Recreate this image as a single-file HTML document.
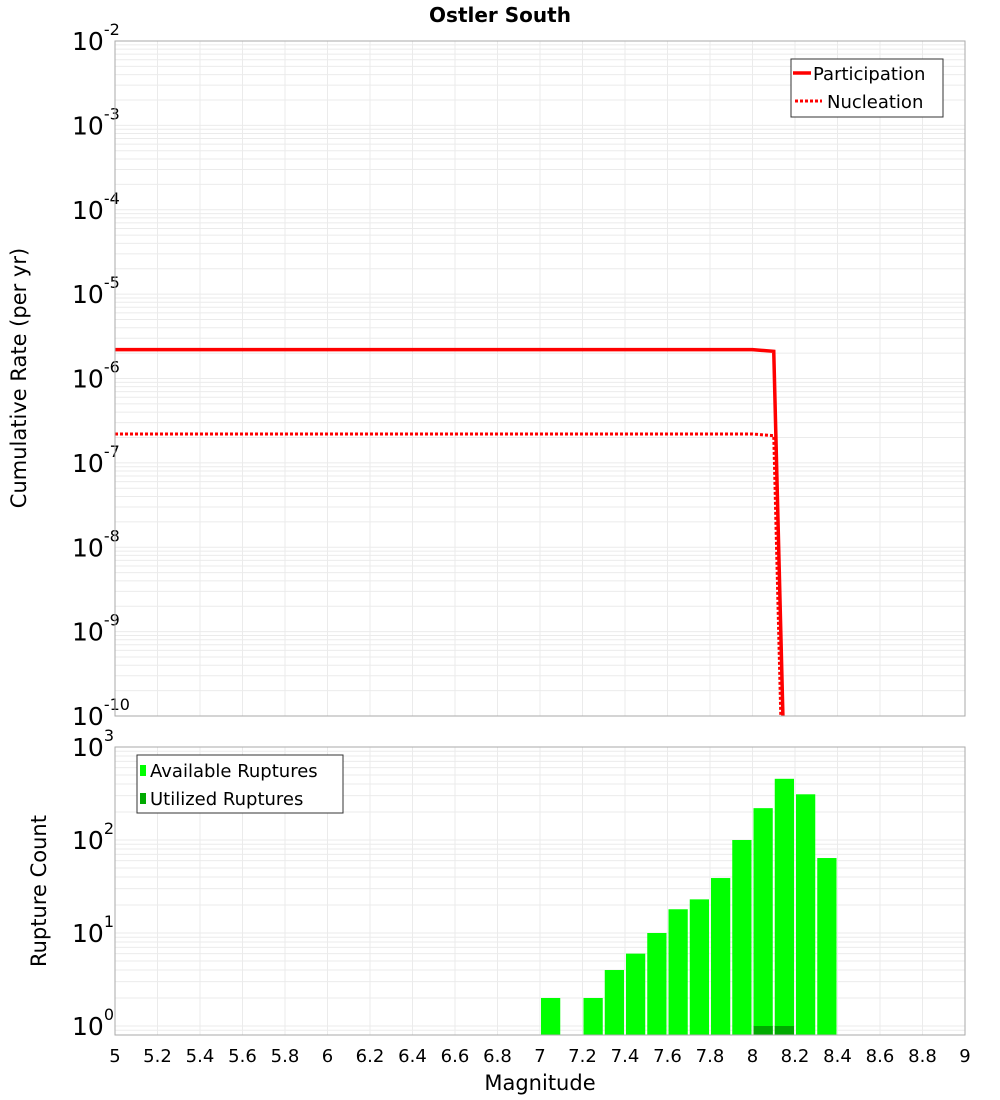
<!DOCTYPE html>
<html><head><meta charset="utf-8"><style>
html,body{margin:0;background:#fff;overflow:hidden;width:1000px;height:1100px;}
svg{display:block;}
svg text{font-family:"DejaVu Sans","Liberation Sans",sans-serif;}
</style></head><body>
<svg id="c" width="1000" height="1100" xmlns="http://www.w3.org/2000/svg">
<text x="500" y="22" text-anchor="middle" font-size="20" font-weight="bold">Ostler South</text>
<text transform="translate(26,378) rotate(-90)" text-anchor="middle" font-size="21">Cumulative Rate (per yr)</text>
<text transform="translate(46,891) rotate(-90)" text-anchor="middle" font-size="21">Rupture Count</text>
<text x="540" y="1090" text-anchor="middle" font-size="21">Magnitude</text>
<g id="g"></g>
</svg>
<script>
const lineMags=[5.0,5.5,6.0,6.5,7.0,7.5,8.0,8.1,8.2];
const participation=[2.2e-6,2.2e-6,2.2e-6,2.2e-6,2.2e-6,2.2e-6,2.2e-6,2.1e-6,2e-16];
const nucleation=[2.2e-7,2.2e-7,2.2e-7,2.2e-7,2.2e-7,2.2e-7,2.2e-7,2.1e-7,2e-17];
const binMags=[7.0,7.2,7.3,7.4,7.5,7.6,7.7,7.8,7.9,8.0,8.1,8.2,8.3];
const available=[2,2,4,6,10,18,23,39,100,220,455,310,64];
const utilMags=[8.0,8.1];
const utilized=[1,1];
const xTicks=[5,5.2,5.4,5.6,5.8,6,6.2,6.4,6.6,6.8,7,7.2,7.4,7.6,7.8,8,8.2,8.4,8.6,8.8,9];

const NS='http://www.w3.org/2000/svg';
const g=document.getElementById('g');
function el(t,a){const e=document.createElementNS(NS,t);for(const k in a)e.setAttribute(k,a[k]);g.appendChild(e);return e;}
const L=115,R=965;
const X=m=>L+(m-5)/4*(R-L);
const T1=41,B1=716; const Y1=v=>T1+(-2-Math.log10(v))*(B1-T1)/8;
const T2=747,B2=1035; const Y2=v=>1026-Math.log10(v)*93;

for(let d=-10;d<-2;d++)for(let k=1;k<10;k++){const y=Y1(k*Math.pow(10,d));
 const e=el('line',{x1:L,x2:R,y1:y,y2:y,stroke:'#ebebeb','stroke-width':1});
 }
for(let d=-1;d<3;d++)for(let k=1;k<10;k++){const y=Y2(k*Math.pow(10,d));if(y<T2||y>B2)continue;
 const e=el('line',{x1:L,x2:R,y1:y,y2:y,stroke:'#ebebeb','stroke-width':1});
 }
xTicks.forEach(m=>{const x=X(m);
 [[T1,B1],[T2,B2]].forEach(p=>{const e=el('line',{x1:x,x2:x,y1:p[0],y2:p[1],stroke:'#ebebeb','stroke-width':1});
 });
 const t=el('text',{x:x,y:1062,'text-anchor':'middle','font-size':18});t.textContent=String(m);
 });

for(let d=-2;d>=-10;d--){const y=Y1(Math.pow(10,d));
 const t=el('text',{x:72,y:y+9,'font-size':25});t.innerHTML='10<tspan dy="-15" font-size="16">'+d+'</tspan>';
 }
for(let d=3;d>=0;d--){const y=Y2(Math.pow(10,d));
 const t=el('text',{x:72,y:y+9,'font-size':25});t.innerHTML='10<tspan dy="-15" font-size="16">'+d+'</tspan>';
 }

const defs=el('defs',{});
const cp=document.createElementNS(NS,'clipPath');cp.setAttribute('id','cl1');
const cr=document.createElementNS(NS,'rect');cr.setAttribute('x',L);cr.setAttribute('y',T1);cr.setAttribute('width',R-L);cr.setAttribute('height',B1-T1);
cp.appendChild(cr);defs.appendChild(cp);

const pp=el('polyline',{points:lineMags.map((m,i)=>X(m)+','+Y1(participation[i])).join(' '),fill:'none',stroke:'#ff0000','stroke-width':3.5,'clip-path':'url(#cl1)'});

const np=el('polyline',{points:lineMags.map((m,i)=>X(m)+','+Y1(nucleation[i])).join(' '),fill:'none',stroke:'#ff0000','stroke-width':3,'stroke-dasharray':'3,2','clip-path':'url(#cl1)'});


const bw=0.1;
binMags.forEach((m,i)=>{const x0=X(m)+1,x1=X(m+bw)-1;const y=Y2(available[i]);
 const b=el('rect',{x:x0,y:y,width:x1-x0,height:B2-y,fill:'#00ff00'});
 });
utilMags.forEach((m,i)=>{const x0=X(m)+1,x1=X(m+bw)-1;const y=Y2(utilized[i]);
 const b=el('rect',{x:x0,y:y,width:x1-x0,height:B2-y,fill:'#00aa00'});
 });

[[T1,B1],[T2,B2]].forEach(p=>{const f=el('rect',{x:L,y:p[0],width:R-L,height:p[1]-p[0],fill:'none',stroke:'#aaa','stroke-width':1});
 });

let lg=el('rect',{x:791,y:59,width:152,height:58,fill:'#fff',stroke:'#333','stroke-width':1});

let e=el('line',{x1:793,x2:811,y1:73,y2:73,stroke:'#f00','stroke-width':3.5});
e=el('line',{x1:795,x2:822,y1:101,y2:101,stroke:'#f00','stroke-width':3,'stroke-dasharray':'3,2'});
e=el('text',{x:813,y:80,'font-size':18});e.textContent='Participation';
e=el('text',{x:827,y:108,'font-size':18});e.textContent='Nucleation';
lg=el('rect',{x:137,y:755,width:206,height:58,fill:'#fff',stroke:'#333','stroke-width':1});

e=el('rect',{x:140,y:765,width:6,height:11,fill:'#00ff00'});
e=el('rect',{x:140,y:793,width:6,height:11,fill:'#00aa00'});
e=el('text',{x:150,y:777,'font-size':18});e.textContent='Available Ruptures';
e=el('text',{x:150,y:805,'font-size':18});e.textContent='Utilized Ruptures';
</script>
</body></html>
